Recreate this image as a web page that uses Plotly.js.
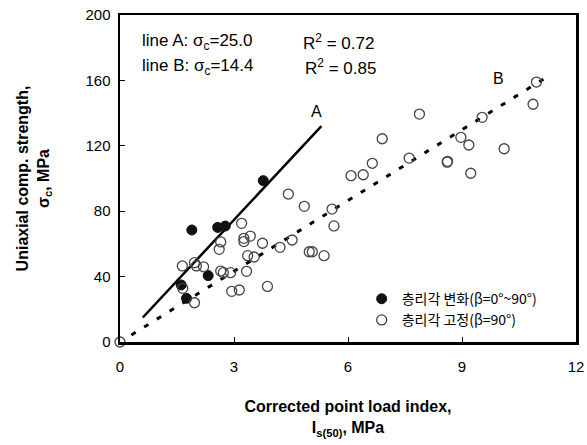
<!DOCTYPE html>
<html>
<head>
<meta charset="utf-8">
<script src="https://cdn.plot.ly/plotly-3.0.1.min.js"></script>
<style>html,body{margin:0;padding:0;background:#fff;}#chart{width:587px;height:445px;}</style>
</head>
<body>
<div id="chart"></div>
<script>
// Filled: bedding angle varied (β=0°~90°)
var varX = [3.77, 1.89, 2.57, 2.77, 2.32, 1.61, 1.75];
var varY = [98.7, 68.5, 70.1, 70.9, 40.6, 34.9, 26.7];
// Open: bedding angle fixed (β=90°)
var fixX = [0.0, 4.43, 4.85, 3.20, 2.65, 3.26, 3.26, 3.43, 2.61, 3.75, 4.21, 4.53, 3.36, 3.53,
            1.64, 1.96, 2.01, 2.20, 2.65, 2.72, 2.91, 3.33, 3.88, 2.94, 3.14, 1.65, 1.96,
            4.98, 5.58, 5.63, 5.06, 5.37, 6.08, 6.40, 6.64, 6.90, 7.88, 7.61, 8.61, 8.62,
            8.97, 9.18, 9.23, 9.53, 10.11, 10.87, 10.96];
var fixY = [0.0, 90.5, 83.0, 72.6, 61.2, 63.4, 61.4, 64.8, 56.7, 60.4, 57.9, 62.4, 52.8, 52.0,
            46.5, 48.5, 46.5, 46.0, 43.4, 42.4, 42.4, 43.2, 34.0, 31.0, 31.8, 32.8, 24.0,
            55.2, 81.3, 71.0, 55.2, 52.8, 101.7, 102.3, 109.3, 124.3, 139.4, 112.5, 110.0, 110.5,
            125.2, 120.5, 103.2, 137.4, 118.2, 145.4, 159.0];
// Regression lines
var lineAX = [0.6, 5.3];
var lineAY = [15.0, 132.0];
var lineBX = [0.3, 11.3];
var lineBY = [4.3, 163.0];
var xTicks = [0, 3, 6, 9, 12];
var yTicks = [0, 40, 80, 120, 160, 200];
var legendNames = ['층리각 변화(β=0°~90°)', '층리각 고정(β=90°)'];

var FONT = 'Liberation Sans, Arial, sans-serif';
var traces = [
  {x: lineAX, y: lineAY, mode: 'lines', line: {color: '#000', width: 2.5}, showlegend: false, hoverinfo: 'skip'},
  {x: lineBX, y: lineBY, mode: 'lines', line: {color: '#000', width: 3, dash: '5px,10px'}, showlegend: false, hoverinfo: 'skip'},
  {x: varX, y: varY, mode: 'markers', name: legendNames[0],
   marker: {symbol: 'circle', size: 10, color: '#111', line: {color: '#111', width: 1}}, cliponaxis: false},
  {x: fixX, y: fixY, mode: 'markers', name: legendNames[1],
   marker: {symbol: 'circle-open', size: 10, color: '#444', line: {color: '#444', width: 1.3}}, cliponaxis: false}
];

var layout = {
  width: 587, height: 445,
  margin: {l: 120, r: 11, t: 15, b: 103},
  paper_bgcolor: '#fff', plot_bgcolor: '#fff',
  font: {family: FONT, size: 15, color: '#000'},
  xaxis: {
    range: [0, 12], tickvals: xTicks, ticktext: xTicks.map(String),
    ticks: 'inside', ticklen: 5, tickwidth: 1, tickcolor: '#000', ticklabelstandoff: 9,
    showline: true, mirror: true, linewidth: 2.5, linecolor: '#000',
    showgrid: false, zeroline: false,
    tickfont: {family: FONT, size: 15, color: '#000'},
    title: {text: 'Corrected point load index,<br>I<sub>s(50)</sub>, MPa', font: {family: FONT, size: 16, color: '#000', weight: 'bold'}, standoff: 28}
  },
  yaxis: {
    range: [0, 200], tickvals: yTicks, ticktext: yTicks.map(String),
    ticks: 'inside', ticklen: 5, tickwidth: 1, tickcolor: '#000', ticklabelstandoff: 4,
    showline: true, mirror: true, linewidth: 2.5, linecolor: '#000',
    showgrid: false, zeroline: false,
    tickfont: {family: FONT, size: 15, color: '#000'},
    title: {text: 'Uniaxial comp. strength,<br>σ<sub>c</sub>, MPa', font: {family: FONT, size: 16, color: '#000', weight: 'bold'}, standoff: 32}
  },
  legend: {
    x: 0.53, y: 0.18, xanchor: 'left', yanchor: 'top',
    bgcolor: 'rgba(0,0,0,0)', borderwidth: 0,
    font: {family: 'Noto Sans CJK KR, sans-serif', size: 14, color: '#000'},
    itemwidth: 30, tracegroupgap: 0
  },
  annotations: [
    {xref: 'paper', yref: 'paper', x: 0.043, y: 0.917, xanchor: 'left', yanchor: 'middle', showarrow: false,
     text: 'line A: σ<sub>c</sub>=25.0', font: {family: FONT, size: 17, color: '#000'}},
    {xref: 'paper', yref: 'paper', x: 0.043, y: 0.841, xanchor: 'left', yanchor: 'middle', showarrow: false,
     text: 'line B: σ<sub>c</sub>=14.4', font: {family: FONT, size: 17, color: '#000'}},
    {xref: 'paper', yref: 'paper', x: 0.397, y: 0.917, xanchor: 'left', yanchor: 'middle', showarrow: false,
     text: 'R<sup>2</sup> = 0.72', font: {family: FONT, size: 17, color: '#000'}},
    {xref: 'paper', yref: 'paper', x: 0.402, y: 0.841, xanchor: 'left', yanchor: 'middle', showarrow: false,
     text: 'R<sup>2</sup> = 0.85', font: {family: FONT, size: 17, color: '#000'}},
    {xref: 'x', yref: 'y', x: 5.17, y: 140.9, showarrow: false, text: 'A', font: {family: FONT, size: 16, color: '#000'}},
    {xref: 'x', yref: 'y', x: 9.96, y: 161.3, showarrow: false, text: 'B', font: {family: FONT, size: 16, color: '#000'}}
  ]
};
Plotly.newPlot('chart', traces, layout, {displayModeBar: false, staticPlot: true});
</script>
</body>
</html>
